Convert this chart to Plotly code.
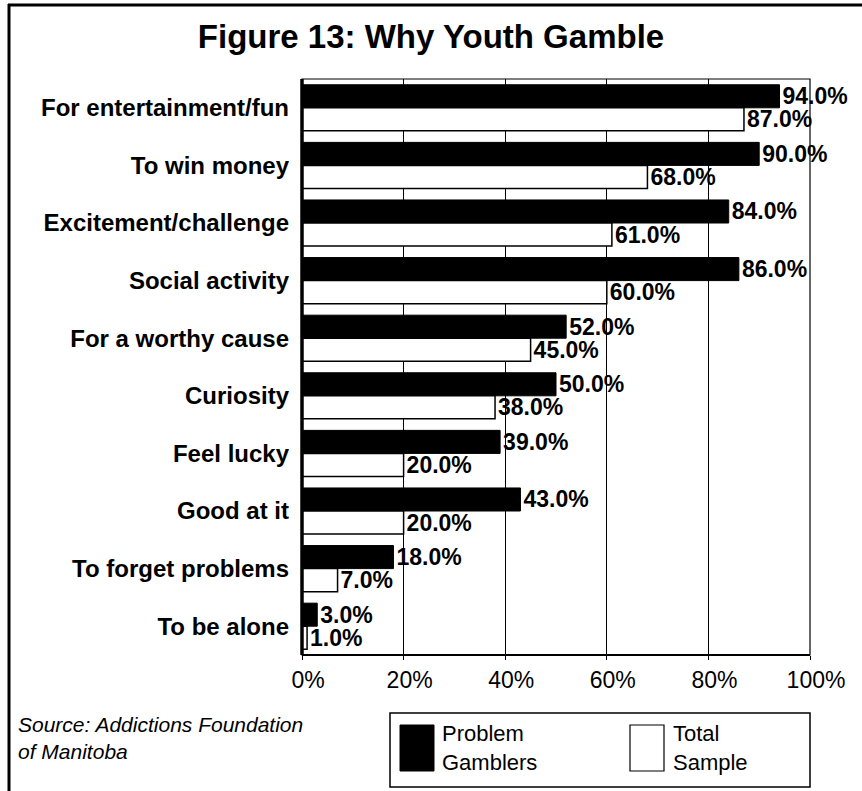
import plotly.graph_objects as go

# Reasons given for gambling, top to bottom
categories = [
    "For entertainment/fun",
    "To win money",
    "Excitement/challenge",
    "Social activity",
    "For a worthy cause",
    "Curiosity",
    "Feel lucky",
    "Good at it",
    "To forget problems",
    "To be alone",
]
problem_gamblers = [94.0, 90.0, 84.0, 86.0, 52.0, 50.0, 39.0, 43.0, 18.0, 3.0]
total_sample = [87.0, 68.0, 61.0, 60.0, 45.0, 38.0, 20.0, 20.0, 7.0, 1.0]
x_ticks = [0, 20, 40, 60, 80, 100]
x_tick_labels = ["0%", "20%", "40%", "60%", "80%", "100%"]

W, H = 862, 791
ML, MR, MT, MB = 302, 52, 79, 136
PW, PH = W - ML - MR, H - MT - MB

FONT = "Liberation Sans, Arial, Helvetica, sans-serif"


def px_x(p):
    return (p - ML) / PW


def px_y(p):
    return 1 - (p - MT) / PH


fig = go.Figure()
fig.add_trace(go.Bar(
    y=categories, x=problem_gamblers, orientation="h", name="Problem Gamblers",
    marker=dict(color="black", line=dict(color="black", width=1)),
    text=[f"{v:.1f}%" for v in problem_gamblers], textposition="outside",
    textfont=dict(family=FONT, size=23, color="black", weight="bold"),
    cliponaxis=False, constraintext="none",
))
fig.add_trace(go.Bar(
    y=categories, x=total_sample, orientation="h", name="Total Sample",
    marker=dict(color="white", line=dict(color="black", width=1.5)),
    text=[f"{v:.1f}%" for v in total_sample], textposition="outside",
    textfont=dict(family=FONT, size=23, color="black", weight="bold"),
    cliponaxis=False, constraintext="none",
))

shapes = [
    # plot frame
    dict(type="rect", xref="paper", yref="paper", x0=0, x1=1, y0=0, y1=1,
         line=dict(color="black", width=1.2)),
    # heavy baseline on the left and bottom
    dict(type="line", xref="paper", yref="paper", x0=0, x1=0, y0=0, y1=1,
         line=dict(color="black", width=3.5)),
    dict(type="line", xref="paper", yref="paper", x0=0, x1=1, y0=0, y1=0,
         line=dict(color="black", width=2)),
    # outer page frame (top and left)
    dict(type="line", xref="paper", yref="paper", x0=px_x(8), x1=px_x(W + 5),
         y0=px_y(5), y1=px_y(5), line=dict(color="black", width=3)),
    dict(type="line", xref="paper", yref="paper", x0=px_x(9), x1=px_x(9),
         y0=px_y(4), y1=px_y(H + 5), line=dict(color="black", width=3)),
    # legend box and swatches
    dict(type="rect", xref="paper", yref="paper", x0=px_x(390), x1=px_x(810),
         y0=px_y(713), y1=px_y(787), line=dict(color="black", width=1.5)),
    dict(type="rect", xref="paper", yref="paper", x0=px_x(400), x1=px_x(434),
         y0=px_y(725), y1=px_y(771), fillcolor="black", line=dict(color="black", width=1)),
    dict(type="rect", xref="paper", yref="paper", x0=px_x(630), x1=px_x(664),
         y0=px_y(725), y1=px_y(771), fillcolor="white", line=dict(color="black", width=1.2)),
]

annotations = [
    dict(text="Problem<br>Gamblers", xref="paper", yref="paper", x=px_x(440), y=px_y(748),
         xanchor="left", yanchor="middle", align="left", showarrow=False,
         font=dict(family=FONT, size=22, color="black")),
    dict(text="Total<br>Sample", xref="paper", yref="paper", x=px_x(671), y=px_y(748),
         xanchor="left", yanchor="middle", align="left", showarrow=False,
         font=dict(family=FONT, size=22, color="black")),
    dict(text="<i>Source: Addictions Foundation<br>of Manitoba</i>", xref="paper", yref="paper",
         x=px_x(16), y=px_y(738), xanchor="left", yanchor="middle", align="left",
         showarrow=False, font=dict(family=FONT, size=21, color="black")),
]

fig.update_layout(
    width=W, height=H, autosize=False,
    margin=dict(l=ML, r=MR, t=MT, b=MB, pad=0),
    paper_bgcolor="white", plot_bgcolor="white",
    barmode="group", bargap=0.2, bargroupgap=0,
    showlegend=False,
    title=dict(text="<b>Figure 13: Why Youth Gamble</b>", x=0.5, xref="container",
               xanchor="center", y=1 - 36 / H, yref="container", yanchor="middle",
               font=dict(family=FONT, size=33, color="black")),
    shapes=shapes, annotations=annotations,
    font=dict(family=FONT, color="black"),
)
fig.update_xaxes(
    range=[0, 100], tickvals=x_ticks, ticktext=x_tick_labels,
    showgrid=True, gridcolor="black", gridwidth=1, zeroline=False,
    showline=False, ticks="outside", ticklen=4, tickcolor="black",
    ticklabelshift=6, tickfont=dict(family=FONT, size=23, color="black"),
)
fig.update_yaxes(
    type="category", categoryorder="array", categoryarray=categories,
    autorange="reversed", showgrid=False, zeroline=False, showline=False,
    ticks="", ticklabelstandoff=12,
    tickfont=dict(family=FONT, size=24, color="black", weight="bold"),
)

fig.write_html("out.html")
